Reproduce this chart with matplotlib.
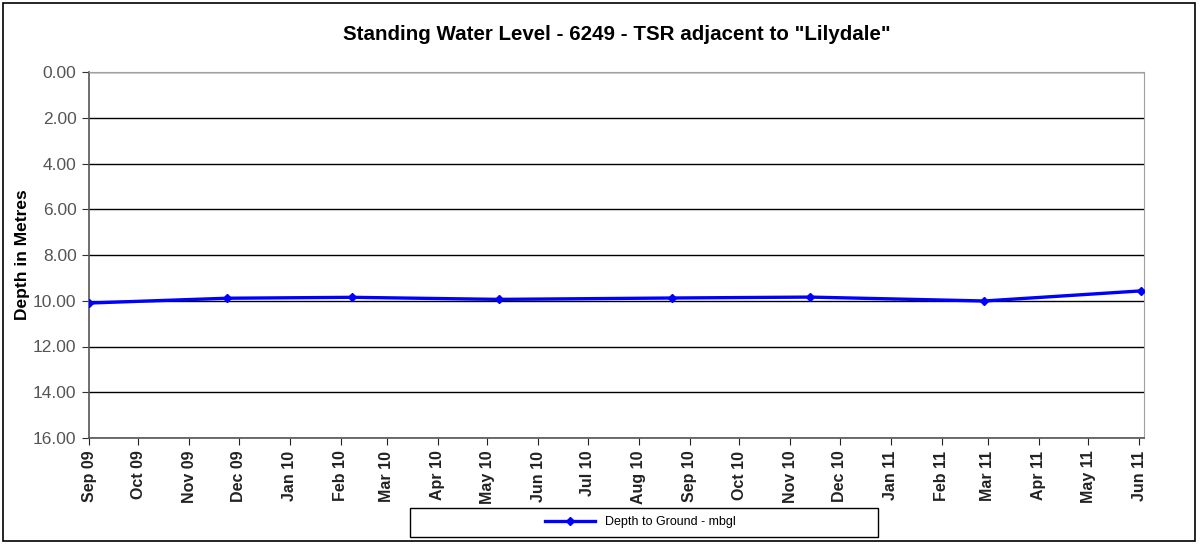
import matplotlib
matplotlib.use("Agg")
import matplotlib.pyplot as plt
import matplotlib.dates as mdates
from matplotlib.patches import Rectangle
import datetime as dt

plt.rcParams['font.family'] = ['Liberation Sans', 'DejaVu Sans']

# readings (date, depth in metres below ground level)
dates = [dt.date(2009, 9, 1), dt.date(2009, 11, 24), dt.date(2010, 2, 8),
         dt.date(2010, 5, 8), dt.date(2010, 8, 21), dt.date(2010, 11, 13),
         dt.date(2011, 2, 27), dt.date(2011, 6, 2)]
depth = [10.10, 9.89, 9.85, 9.94, 9.88, 9.84, 10.01, 9.57]

title = 'Standing Water Level - 6249 - TSR adjacent to "Lilydale"'
series_name = "Depth to Ground - mbgl"
y_ticks = [0, 2, 4, 6, 8, 10, 12, 14, 16]

fig = plt.figure(figsize=(12.01, 5.46), dpi=100)
ax = fig.add_axes([89 / 1201, 1 - 438 / 546, (1144 - 89) / 1201, (438 - 72) / 546])

line, = ax.plot(dates, depth, color="#0000ff", lw=2.4, marker="D", ms=4.5,
                mec="#0000ff", mfc="#0000ff", label=series_name, zorder=3)

ax.set_ylim(16, 0)
ax.set_yticks(y_ticks)
ax.yaxis.set_major_formatter(plt.FuncFormatter(lambda v, p: f"{v:.2f}"))
ax.set_xlim(mdates.date2num(dt.date(2009, 9, 1)), mdates.date2num(dt.date(2011, 6, 4)))
ax.xaxis.set_major_locator(mdates.MonthLocator())
ax.xaxis.set_major_formatter(mdates.DateFormatter("%b %y"))

ax.grid(axis="y", color="black", lw=1)
ax.set_axisbelow(True)
for side in ["top", "right"]:
    ax.spines[side].set_color("#a0a0a0")
for side in ["left", "bottom"]:
    ax.spines[side].set_color("#555555")
    ax.spines[side].set_linewidth(1.2)

ax.tick_params(axis="y", labelsize=12.5, colors="#333333", length=5, pad=4)
ax.tick_params(axis="x", labelsize=11.5, colors="#222222", length=5, pad=4)
for lab in ax.get_xticklabels():
    lab.set_rotation(90)
    lab.set_fontweight("bold")
for lab in ax.get_yticklabels():
    lab.set_color("#555555")

ax.set_ylabel("Depth in Metres", fontsize=12.5, fontweight="bold")
ax.yaxis.set_label_coords(-0.056, 0.5)
fig.text(617 / 1201, 1 - 35 / 546, title, ha="center", va="center",
         fontsize=14.8, fontweight="bold")

# legend box
fig.patches.append(Rectangle((410 / 1201, 1 - 537 / 546), 468 / 1201, 29 / 546,
                             transform=fig.transFigure, fill=False,
                             edgecolor="black", lw=1))
fig.legend(handles=[line], loc="center", frameon=False, fontsize=9,
           bbox_to_anchor=(640 / 1201, 1 - 522 / 546), handlelength=4.0,
           markerscale=0.9)

# outer border
fig.patches.append(Rectangle((3 / 1201, 5 / 546), 1192 / 1201, 538 / 546,
                             transform=fig.transFigure, fill=False,
                             edgecolor="black", lw=1.2))

fig.savefig("out.png", dpi=100)
